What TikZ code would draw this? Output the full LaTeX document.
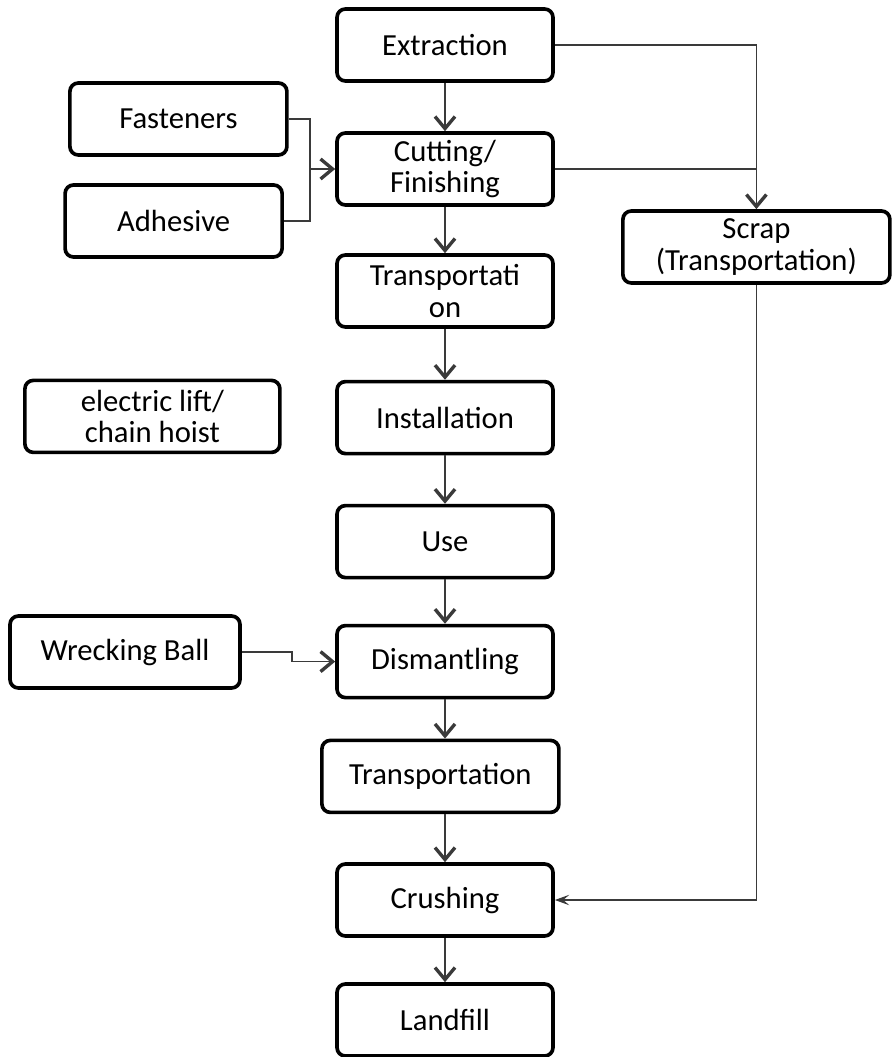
\documentclass[tikz,border=0pt]{standalone}
\usepackage{fontspec}
\setmainfont{Carlito}
\usetikzlibrary{arrows.meta,positioning,calc}
\definecolor{lnk}{HTML}{3A3A3A}
\tikzset{
  stagebox/.style={draw=black, line width=2.6pt, fill=white, rounded corners=6pt,
                   inner sep=4pt, align=center, text=black,
                   font=\fontsize{21.8}{22.5}\selectfont,
                   minimum width=5.4cm, minimum height=1.8cm},
  arr/.style={-{Straight Barb[length=3mm,width=5mm,line width=2.4pt]}, line width=1.1pt, color=lnk},
  sarr/.style={-{Stealth[length=3.6mm,width=2.6mm,inset=1.5mm]}, line width=1.1pt, color=lnk},
  lnkline/.style={line width=1.1pt, color=lnk}}
\begin{document}
\begin{tikzpicture}[sidebox/.style={stagebox, minimum width=5.425cm}]
    \useasboundingbox (0,0) rectangle (22.275,-26.425);
    % main column
    \node[stagebox] (extr)   at (11.125,-1.125) {Extraction};
    \node[stagebox] (cut)    at (11.125,-4.225) {Cutting/\\Finishing};
    \node[stagebox] (transa) at (11.125,-7.275) {Transportati\\on};
    \node[stagebox] (inst)   at (11.125,-10.44) {Installation};
    \node[stagebox] (use)    at (11.125,-13.54) {Use};
    \node[stagebox] (dism)   at (11.125,-16.54) {Dismantling};
    \node[stagebox, minimum width=5.925cm] (transb) at (11.01,-19.41) {Transportation};
    \node[stagebox] (crush)  at (11.125,-22.5)  {Crushing};
    \node[stagebox] (land)   at (11.125,-25.5)  {Landfill};
    % inputs on the left
    \node[sidebox] (fast)  at (4.46,-2.975)  {Fasteners};
    \node[sidebox] (adh)   at (4.34,-5.525)  {Adhesive};
    \node[sidebox, minimum width=6.375cm] (lift)  at (3.81,-10.41) {electric lift/\\chain hoist};
    \node[sidebox, minimum width=5.75cm]  (wreck) at (3.125,-16.3) {Wrecking Ball};
    % scrap branch
    \node[stagebox, minimum width=6.675cm] (scrap) at (18.91,-6.175) {Scrap\\(Transportation)};
    \coordinate (jn) at (7.75,-4.225);
    \draw[arr] (extr) -- (cut);
    \draw[arr] (cut) -- (transa);
    \draw[arr] (transa) -- (inst);
    \draw[arr] (inst) -- (use);
    \draw[arr] (use) -- (dism);
    \draw[arr] (dism.south) -- (dism.south |- transb.north);
    \draw[arr] (crush.north |- transb.south) -- (crush.north);
    \draw[arr] (crush) -- (land);
    \draw[lnkline] (fast.east) -| (jn);
    \draw[lnkline] (adh.east) -| (jn);
    \draw[arr] (jn) -- (cut.west);
    \draw[arr] (wreck.east) -- ++(1.25,0) |- (dism.west);
    \draw[lnkline] (cut.east) -- (cut.east -| scrap.north);
    \draw[arr] (extr.east) -| (scrap.north);
    \draw[sarr] (scrap.south) |- (crush.east);
  \end{tikzpicture}
\end{document}
